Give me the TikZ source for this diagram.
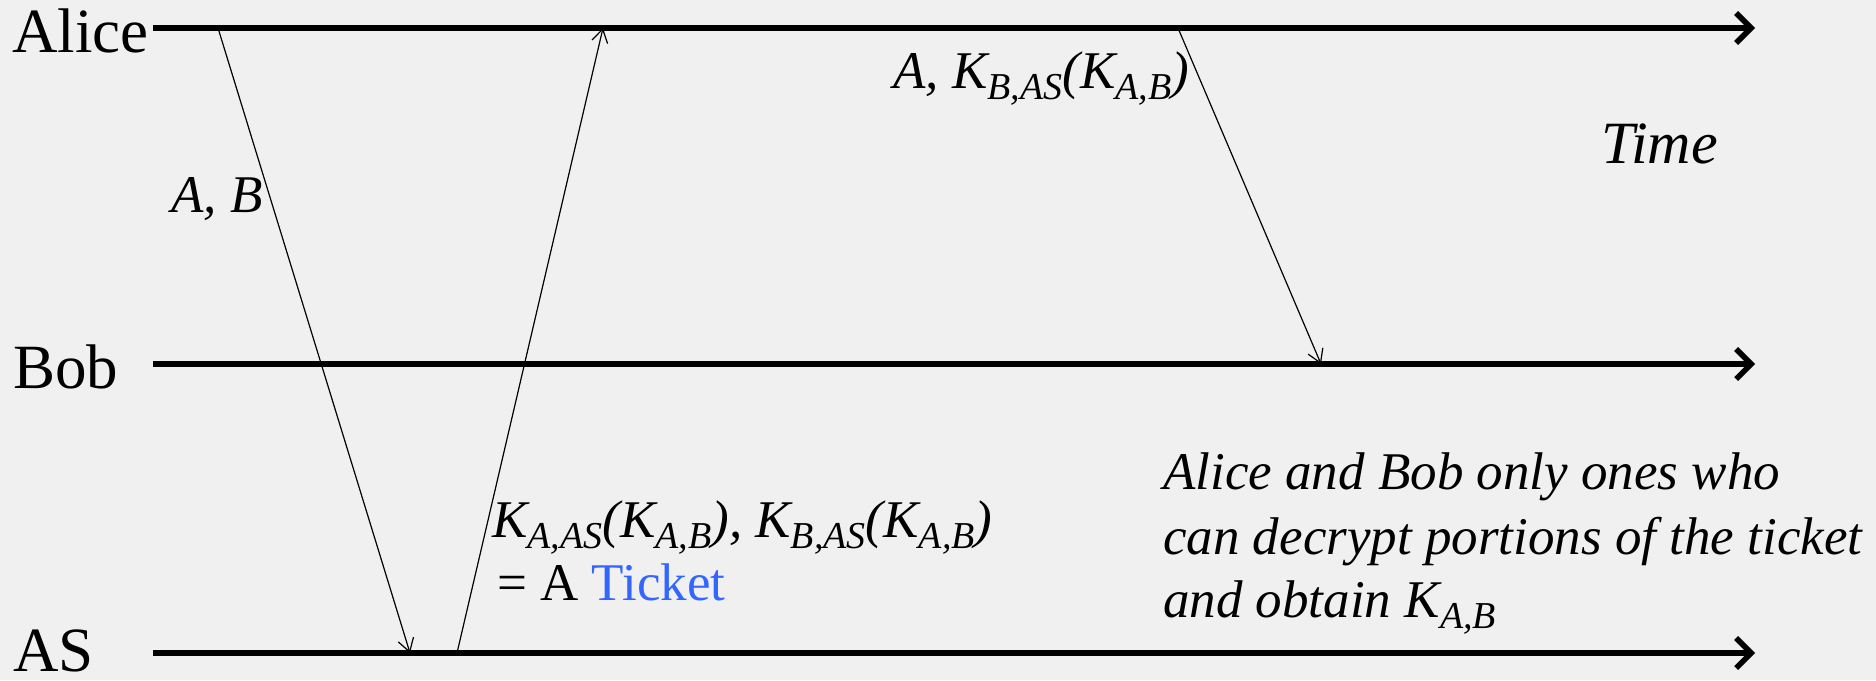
\documentclass[tikz,border=0pt]{standalone}
\usepackage{fontspec}
\setmainfont{Liberation Serif}[ItalicFont={Liberation Serif Italic},BoldFont={Liberation Serif Bold}]
\usetikzlibrary{arrows.meta}
\definecolor{bgcol}{RGB}{240,240,240}
\definecolor{ticketblue}{RGB}{51,102,255}
\newcommand\sbx[1]{\raisebox{-11pt}{\fontsize{38}{38}\selectfont #1}}
\begin{document}
\begin{tikzpicture}[x=1pt,y=-1pt,
  actor/.style={anchor=base west,inner sep=0pt,font=\fontsize{63}{70}\selectfont},
  lbl/.style={anchor=base west,inner sep=0pt,font=\fontsize{53}{64}\selectfont\itshape},
  timeline/.style={line width=5.5pt,-{Straight Barb[length=15pt,width=30pt,line width=5.5pt]}},
  msg/.style={line width=1.2pt,-{Straight Barb[length=13pt,width=16pt,line width=1.2pt]}}]
\useasboundingbox (0,0) rectangle (1876,680);
\fill[bgcol] (0,0) rectangle (1876,680);
% participants
\node[actor] (alice) at (12,52) {Alice};
\node[actor] (bob) at (13,388) {Bob};
\node[actor] (as) at (13,671) {AS};
% timelines
\coordinate (aS) at (153,28);
\coordinate (aE) at (1755,28);
\coordinate (bS) at (153,364);
\coordinate (bE) at (1755,364);
\coordinate (sS) at (153,653);
\coordinate (sE) at (1755,653);
\draw[timeline] (aS) -- (aE);
\draw[timeline] (bS) -- (bE);
\draw[timeline] (sS) -- (sE);
% messages
\coordinate (m1s) at (218,28);
\coordinate (m1e) at (410,653);
\coordinate (m2s) at (457,653);
\coordinate (m2e) at (603,28);
\coordinate (m3s) at (1178,28);
\coordinate (m3e) at (1321,364);
\draw[msg] (m1s) -- (m1e);
\draw[msg] (m2s) -- (m2e);
\draw[msg] (m3s) -- (m3e);
% labels
\node[lbl] (lab1) at (171,212) {A, B};
\node[lbl] (lab3) at (893,88) {A, K\sbx{B,AS}(K\sbx{A,B})};
\node[anchor=base west,inner sep=0pt,font=\fontsize{60}{70}\selectfont\itshape] (time) at (1601,163) {Time};
\node[lbl] (lab2a) at (492,537) {K\sbx{A,AS}(K\sbx{A,B}), K\sbx{B,AS}(K\sbx{A,B})};
\node[anchor=base west,inner sep=0pt,font=\fontsize{53}{64}\selectfont] (lab2b) at (497,600) {= A \textcolor{ticketblue}{Ticket}};
\node[lbl] (note1) at (1163,489) {Alice and Bob only ones who};
\node[lbl] (note2) at (1163,554) {can decrypt portions of the ticket};
\node[lbl] (note3) at (1163,617) {and obtain K\sbx{A,B}};
\end{tikzpicture}
\end{document}
